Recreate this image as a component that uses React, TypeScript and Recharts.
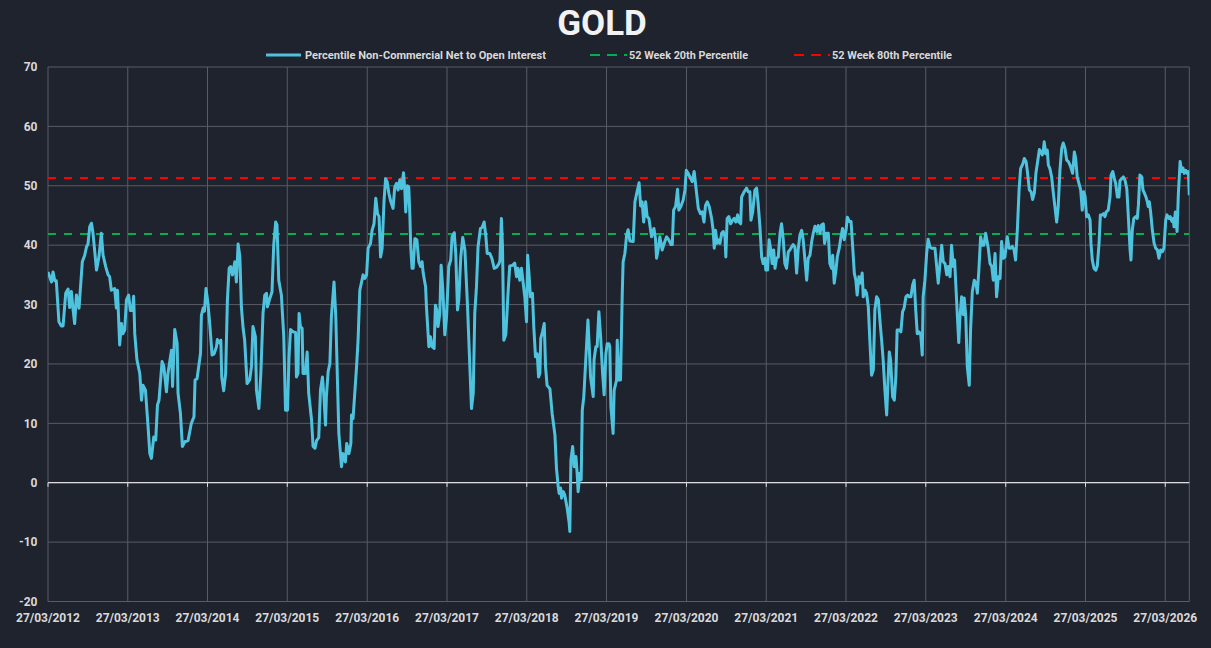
import React from "react";
import { LineChart, Line, XAxis, YAxis, CartesianGrid, ReferenceLine, Legend } from "recharts";

// Days since 27/03/2012 for each observation
const days = [
  0, 16, 23, 31, 38, 50, 61, 69, 81, 92, 99, 107, 114, 122, 130, 142, 157, 168, 176, 183,
  191, 199, 206, 222, 233, 244, 252, 264, 275, 282, 290, 305, 313, 318, 328, 336, 343, 351, 359, 369,
  377, 386, 392, 397, 407, 420, 428, 435, 446, 458, 466, 473, 484, 493, 501, 508, 522, 530, 542, 549,
  565, 570, 580, 591, 595, 606, 615, 626, 641, 656, 668, 673, 682, 698, 702, 710, 716, 723, 732, 740,
  751, 760, 771, 775, 786, 791, 795, 804, 813, 821, 829, 836, 844, 855, 862, 870, 878, 885, 893, 900,
  911, 923, 931, 938, 949, 954, 965, 974, 984, 992, 1000, 1004, 1015, 1025, 1033, 1042, 1048, 1056, 1068, 1079,
  1087, 1096, 1103, 1110, 1122, 1133, 1137, 1144, 1149, 1155, 1163, 1167, 1178, 1186, 1193, 1206, 1213, 1222, 1229, 1239,
  1247, 1256, 1263, 1270, 1274, 1282, 1290, 1297, 1309, 1317, 1325, 1331, 1343, 1350, 1361, 1367, 1377, 1386, 1389, 1396,
  1412, 1419, 1427, 1442, 1450, 1458, 1465, 1476, 1483, 1492, 1500, 1508, 1515, 1522, 1529, 1538, 1545, 1552, 1560, 1569,
  1579, 1587, 1595, 1602, 1610, 1618, 1627, 1633, 1637, 1645, 1651, 1656, 1660, 1666, 1671, 1679, 1688, 1697, 1705, 1712,
  1717, 1728, 1732, 1743, 1750, 1758, 1767, 1773, 1779, 1785, 1793, 1799, 1807, 1816, 1824, 1834, 1843, 1849, 1859, 1866,
  1874, 1880, 1889, 1898, 1908, 1920, 1930, 1938, 1946, 1953, 1961, 1968, 1979, 1987, 1996, 2004, 2010, 2022, 2032, 2042,
  2053, 2064, 2068, 2075, 2080, 2086, 2095, 2106, 2113, 2126, 2136, 2144, 2151, 2159, 2167, 2174, 2182, 2190, 2195, 2202,
  2208, 2217, 2223, 2231, 2239, 2245, 2251, 2255, 2263, 2271, 2277, 2284, 2297, 2307, 2320, 2327, 2335, 2339, 2346, 2350,
  2358, 2365, 2376, 2385, 2388, 2393, 2401, 2408, 2416, 2422, 2426, 2434, 2440, 2445, 2452, 2461, 2471, 2477, 2483, 2495,
  2499, 2507, 2513, 2521, 2529, 2538, 2545, 2553, 2559, 2567, 2571, 2576, 2586, 2591, 2602, 2605, 2612, 2620, 2628, 2632,
  2640, 2648, 2655, 2663, 2678, 2686, 2694, 2705, 2712, 2719, 2726, 2735, 2742, 2750, 2762, 2773, 2780, 2785, 2792, 2800,
  2811, 2820, 2831, 2841, 2851, 2857, 2863, 2872, 2881, 2887, 2896, 2907, 2915, 2921, 2930, 2941, 2948, 2957, 2965, 2976,
  2986, 2994, 3002, 3009, 3017, 3026, 3037, 3044, 3049, 3055, 3062, 3070, 3075, 3083, 3090, 3098, 3102, 3108, 3116, 3124,
  3133, 3140, 3148, 3156, 3162, 3170, 3174, 3186, 3197, 3204, 3212, 3217, 3225, 3235, 3243, 3250, 3258, 3266, 3273, 3281,
  3285, 3293, 3300, 3308, 3314, 3321, 3327, 3334, 3342, 3350, 3357, 3365, 3372, 3380, 3388, 3395, 3403, 3410, 3418, 3426,
  3433, 3441, 3449, 3456, 3464, 3472, 3479, 3487, 3495, 3502, 3510, 3518, 3525, 3533, 3540, 3548, 3554, 3563, 3571, 3578,
  3586, 3591, 3598, 3606, 3612, 3621, 3629, 3636, 3644, 3652, 3658, 3667, 3675, 3682, 3690, 3697, 3703, 3711, 3719, 3726,
  3731, 3739, 3746, 3754, 3761, 3769, 3777, 3784, 3792, 3800, 3807, 3815, 3822, 3830, 3838, 3845, 3850, 3856, 3865, 3873,
  3880, 3886, 3896, 3903, 3911, 3918, 3926, 3934, 3941, 3949, 3957, 3964, 3971, 3978, 3986, 3994, 4001, 4005, 4013, 4021,
  4028, 4036, 4044, 4051, 4059, 4067, 4074, 4082, 4090, 4097, 4105, 4113, 4120, 4128, 4135, 4143, 4149, 4155, 4161, 4168,
  4173, 4181, 4189, 4193, 4200, 4207, 4216, 4222, 4230, 4239, 4247, 4253, 4260, 4268, 4276, 4283, 4291, 4303, 4311, 4319,
  4326, 4334, 4341, 4349, 4357, 4364, 4372, 4379, 4390, 4398, 4406, 4413, 4421, 4428, 4436, 4444, 4451, 4461, 4468, 4476,
  4483, 4491, 4499, 4506, 4514, 4521, 4529, 4537, 4544, 4550, 4555, 4559, 4566, 4573, 4578, 4585, 4593, 4601, 4608, 4616,
  4623, 4631, 4639, 4646, 4654, 4662, 4669, 4677, 4685, 4689, 4697, 4703, 4710, 4718, 4726, 4733, 4740, 4746, 4753, 4761,
  4769, 4773, 4779, 4787, 4795, 4802, 4810, 4816, 4825, 4831, 4837, 4843, 4852, 4860, 4865, 4873, 4880, 4886, 4894, 4901,
  4906, 4914, 4921, 4929, 4937, 4944, 4952, 4956, 4962, 4969, 4978, 4985, 4990, 4997, 5005, 5011, 5017, 5025, 5031, 5035,
  5040, 5046, 5054, 5062, 5069, 5077, 5084, 5092, 5100, 5107, 5115, 5121, 5130, 5136, 5143, 5149, 5153, 5159, 5167, 5173,
  5181, 5188, 5194, 5200, 5207, 5213, 5219, 5223,
];

// Percentile Non-Commercial Net to Open Interest
const percentile = [
  35.5, 33.8, 35.5, 34, 34, 27.1, 26.4, 26.4, 31.9, 32.6, 29.5, 32.2, 29.4, 26.8, 31.6, 29.4, 37.2, 38.3, 39.7, 40.2,
  43.1, 43.7, 42, 35.8, 38, 42, 38.3, 36.4, 35, 34.7, 32.4, 32.7, 29.4, 32.4, 23.2, 26.8, 25.1, 25.7, 30.8, 31.6,
  29, 29, 31.4, 25.1, 20.7, 18.4, 13.9, 16.4, 15.6, 9.4, 4.9, 4.1, 7.7, 7.2, 13.1, 13.9, 20.4, 19.6, 15.3, 18.4,
  22.3, 16.2, 25.8, 23.5, 15.1, 11.7, 6.1, 6.9, 7.1, 10, 11.1, 17.3, 17.5, 21.8, 28.2, 29.4, 28.9, 32.7, 30.2, 26.8,
  21.5, 21.7, 22.9, 24.1, 23.5, 24, 17.8, 15.5, 18.4, 30.8, 36.1, 36.4, 35, 37.2, 33.8, 40.2, 38.1, 29.6, 26, 24,
  16.7, 17.3, 19.5, 26.3, 24.6, 15.6, 12.5, 18.4, 28.5, 31.6, 31.9, 29.6, 31, 32.1, 40, 43.9, 43.4, 34.1, 31.6, 24.6,
  12.2, 12.2, 21.2, 25.8, 25.4, 25.3, 17.8, 18.4, 28.5, 26.3, 26, 18.4, 18.4, 22, 15.1, 10.6, 6.1, 5.8, 7.1, 7.6,
  15.6, 17.8, 14.4, 9.7, 14.5, 18.7, 20.1, 28, 33.8, 28, 16.7, 8.3, 2.7, 4.9, 3.5, 6.6, 4.9, 6.6, 11.4, 10.8,
  19.5, 24, 32.4, 35, 34.4, 35, 39.5, 40.3, 42.5, 43.6, 47.9, 45.3, 44.8, 38, 39.5, 47.6, 51.2, 50.7, 48.7, 47.3,
  46.2, 49.8, 50.4, 49.3, 51, 49.5, 52.2, 49.3, 45.6, 50, 49.8, 45.1, 39.7, 36.1, 36.1, 41.1, 40.9, 37.2, 36.4, 37.2,
  35.3, 33, 29.6, 22.9, 24.6, 22.9, 22.6, 29.9, 29.1, 26.3, 28.5, 36.6, 32.4, 24.9, 28, 36.4, 37.5, 41.4, 42.1, 38.6,
  29.1, 30.8, 38, 41.3, 39.1, 29.6, 20.1, 12.5, 15.1, 28.5, 33.1, 39.7, 42.8, 43, 43.9, 41.4, 38.6, 38.6, 37.7, 36.1,
  36.3, 36.9, 37.4, 44.5, 39.7, 24, 24.9, 32.4, 36.5, 36.6, 37, 34.7, 36.1, 34.1, 36.1, 33.8, 31.3, 27.1, 38.3, 34.7,
  31.3, 31.9, 26.3, 21.2, 21.7, 17.8, 18.4, 24.3, 25.4, 26.8, 19.5, 16.4, 15.8, 11.7, 8, 2.4, -0.7, -1.8, -0.9, -2.6,
  -1.5, -2.1, -4.3, -6.8, -8.2, 3.8, 6.1, 2.7, 4.4, 1.3, -1.5, 1.6, 0.5, 12.2, 14.5, 20.7, 27.4, 22.9, 17.8, 14.5,
  20.7, 22.9, 22.9, 28.8, 24.6, 18.4, 14.8, 21.7, 23.4, 23.4, 22.9, 12.8, 8.3, 15.6, 17.3, 24, 17.3, 17.3, 31.9, 37.2,
  38.6, 41.7, 42.6, 40.7, 40.6, 47.3, 48.7, 50.5, 46.6, 47.3, 43.9, 47.3, 44.8, 44.5, 41.4, 42.8, 41.1, 37.8, 39.2, 41.4,
  39.2, 40.3, 41.4, 40.9, 40.1, 40.1, 45.9, 46.5, 49.4, 45.9, 46.5, 47.6, 49.3, 52.6, 52.1, 51.2, 50.7, 52.4, 49.8, 46.2,
  45.3, 45.6, 43.9, 46.7, 47.3, 46.5, 44.5, 42.5, 39.5, 42.5, 40.3, 40.9, 40.3, 42, 42.3, 41.4, 38, 44.5, 44.8, 43.6,
  44.2, 44.5, 43.9, 45.1, 43.9, 43.6, 48.1, 49, 49.6, 49, 49, 44.2, 45.6, 49.3, 49.6, 47, 43.1, 38, 36.9, 37.8,
  35.8, 35.8, 40.9, 39.2, 36.9, 39.2, 36.1, 37.8, 38, 42, 43.6, 40.9, 36.9, 36.1, 38.9, 39.2, 39.7, 40.1, 39.7, 35.3,
  39.2, 41.7, 42.5, 40.9, 37.5, 34.1, 37.8, 38.3, 40.6, 42, 43.2, 42.3, 43.3, 42, 43.4, 43.6, 40.3, 42, 42, 36.9,
  36.1, 38.3, 33.6, 35.8, 38, 39.5, 41.4, 42.8, 40.9, 42.5, 44.7, 44, 44, 40, 35.3, 34.1, 31.6, 34.7, 33.6, 35.3,
  31.3, 32.4, 31.9, 29.6, 24, 18.1, 19, 29.1, 31.3, 30.8, 27.4, 24, 20.7, 15.6, 11.4, 17.8, 22, 20.7, 14.5, 13.9,
  17.8, 25.7, 25.7, 25.4, 28.8, 29.4, 31.3, 31.6, 31.3, 31.3, 33.3, 34.1, 29.1, 25.1, 25.4, 24.9, 21.5, 31.3, 34.1, 38.6,
  41, 39.7, 39.5, 39.5, 39.5, 36.4, 33.6, 36.9, 40, 37.2, 36.9, 35, 36.4, 34.7, 40, 36.4, 37.5, 33, 28.5, 23.6,
  27.6, 31.3, 28.3, 31.1, 28, 19.5, 16.4, 25.7, 32.2, 34.1, 33.6, 31.9, 35.8, 41.4, 40, 40, 42, 39.5, 36.9, 36.4,
  34.1, 38.6, 31.3, 34.7, 34.4, 40.6, 37.8, 38, 41.4, 39.5, 39.5, 39.8, 39.2, 37.5, 42.5, 49.3, 52.9, 53.7, 54.6, 54.1,
  52.1, 49.3, 49, 47.7, 48.8, 52.1, 54.1, 56.1, 55.7, 55.2, 56, 57.4, 55.4, 56, 53.5, 52.9, 51.5, 48.7, 46.5, 43.9,
  46.5, 52.6, 56.3, 57.2, 56.3, 54.3, 54.1, 53.5, 52.6, 52.1, 55.7, 54.6, 51.5, 50.4, 49.3, 45.9, 49, 48.2, 44.8, 45.1,
  44.2, 40.3, 37.5, 36.1, 35.8, 36.5, 40.3, 45.1, 45.1, 45.3, 44.8, 45.6, 45.9, 48.1, 51.8, 52.4, 51.2, 50.4, 48.1, 48.1,
  50.9, 51.2, 51.5, 50.9, 49.5, 44.8, 39.2, 37.5, 42.5, 44.5, 44.8, 44.5, 46.7, 51.8, 51.5, 49.3, 48.8, 48.1, 47.3, 46.5,
  47.3, 45.6, 42.5, 40.3, 39.5, 39.2, 37.8, 39.2, 38.9, 39.5, 44.2, 45.1, 44.5, 44.8, 44, 44.5, 43.1, 45.6, 42.3, 48.7,
  54.1, 52.4, 53, 52.1, 52.6, 52.1, 52.4, 48.4,
];

// 52 week percentile bands
const week52p20 = 41.9;
const week52p80 = 51.3;

const yTicks = [-20, -10, 0, 10, 20, 30, 40, 50, 60, 70];
const tickYears = [2012, 2013, 2014, 2015, 2016, 2017, 2018, 2019, 2020, 2021, 2022, 2023, 2024, 2025, 2026];

const seriesNames = [
  "Percentile Non-Commercial Net to Open Interest",
  "52 Week 20th Percentile",
  "52 Week 80th Percentile",
];

const START = Date.UTC(2012, 2, 27);
const DAY = 86400000;

const rows = days.map((d, i) => ({ day: d, pct: percentile[i], p20: week52p20, p80: week52p80 }));
const xTicks = tickYears.map((y) => Math.round((Date.UTC(y, 2, 27) - START) / DAY));

const pad = (n: number) => (n < 10 ? "0" + n : "" + n);
const fmtDate = (d: number) => {
  const dt = new Date(START + d * DAY);
  return pad(dt.getUTCDate()) + "/" + pad(dt.getUTCMonth() + 1) + "/" + dt.getUTCFullYear();
};

const BG = "#1f232e";
const TXT = "#d9d9d9";
const GRID = "#595c63";
const CYAN = "#4fc3de";
const GREEN = "#00b050";
const RED = "#ff0000";
const FONT = "Roboto, 'Liberation Sans', sans-serif";

const XTick = (props: any) => {
  const { x, y, payload } = props;
  return (
    <text x={x} y={y + 20.5} textAnchor="middle" fill={TXT} fontSize={12} fontWeight={700} fontFamily={FONT}>
      {fmtDate(payload.value)}
    </text>
  );
};

const YTick = (props: any) => {
  const { x, y, payload } = props;
  return (
    <text x={x - 10.5} y={y + 4.3} textAnchor="end" fill={TXT} fontSize={12} fontWeight={700} fontFamily={FONT}>
      {payload.value}
    </text>
  );
};

const LegendContent = () => (
  <svg width={1211} height={67} style={{ display: "block" }}>
    <text x={602} y={35} textAnchor="middle" fill="#f2f2f2" fontSize={35} fontWeight={700} fontFamily={FONT}>
      GOLD
    </text>
    <line x1={266} x2={301} y1={55} y2={55} stroke={CYAN} strokeWidth={3} />
    <text x={305} y={59} fill={TXT} fontSize={11} fontWeight={700} fontFamily={FONT} textLength={241} lengthAdjust="spacingAndGlyphs">
      {seriesNames[0]}
    </text>
    <line x1={590} x2={627} y1={55} y2={55} stroke={GREEN} strokeWidth={2} strokeDasharray="10 7" />
    <text x={629} y={59} fill={TXT} fontSize={11} fontWeight={700} fontFamily={FONT} textLength={119} lengthAdjust="spacingAndGlyphs">
      {seriesNames[1]}
    </text>
    <line x1={794} x2={830} y1={55} y2={55} stroke={RED} strokeWidth={2} strokeDasharray="10 7" />
    <text x={832} y={59} fill={TXT} fontSize={11} fontWeight={700} fontFamily={FONT} textLength={120} lengthAdjust="spacingAndGlyphs">
      {seriesNames[2]}
    </text>
  </svg>
);

export default function App() {
  return (
    <div style={{ position: "fixed", left: 0, top: 0, width: 1211, height: 648, background: BG, overflow: "hidden" }}>
      <LineChart
        width={1211}
        height={648}
        data={rows}
        margin={{ top: 67, right: 21.7, bottom: 16.5, left: 0 }}
      >
        <CartesianGrid stroke={GRID} strokeWidth={1} />
        <XAxis
          type="number"
          dataKey="day"
          domain={[0, days[days.length - 1]]}
          ticks={xTicks}
          tick={<XTick />}
          tickLine={false}
          axisLine={false}
          tickSize={0}
          tickMargin={0}
          height={30}
          interval={0}
          allowDataOverflow
        />
        <YAxis
          type="number"
          domain={[-20, 70]}
          ticks={yTicks}
          tick={<YTick />}
          tickLine={false}
          axisLine={false}
          tickSize={0}
          tickMargin={0}
          width={48}
          interval={0}
          allowDataOverflow
        />
        <Legend
          layout="horizontal"
          verticalAlign="middle"
          align="center"
          content={<LegendContent />}
          wrapperStyle={{ top: 0, left: 0, width: 1211, height: 67 }}
        />
        <ReferenceLine y={0} stroke="#dcdcdc" strokeWidth={1.3} />
        {xTicks.map((t) => (
          <ReferenceLine
            key={"tk" + t}
            segment={[{ x: t, y: 0 }, { x: t, y: -0.7 }]}
            stroke="#dcdcdc"
            strokeWidth={1}
          />
        ))}
        <Line dataKey="p20" name={seriesNames[1]} stroke={GREEN} strokeWidth={2} strokeDasharray="8 8" dot={false} activeDot={false} isAnimationActive={false} />
        <Line dataKey="p80" name={seriesNames[2]} stroke={RED} strokeWidth={2} strokeDasharray="8 8" dot={false} activeDot={false} isAnimationActive={false} />
        <Line dataKey="pct" name={seriesNames[0]} stroke={CYAN} strokeWidth={3} dot={false} activeDot={false} isAnimationActive={false} strokeLinejoin="round" />
      </LineChart>
    </div>
  );
}
